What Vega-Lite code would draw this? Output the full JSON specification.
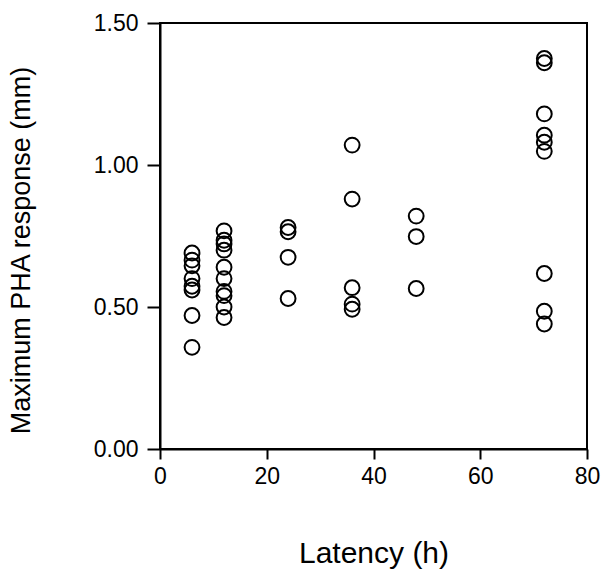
{
  "$schema": "https://vega.github.io/schema/vega-lite/v6.json",
  "autosize": "none",
  "padding": {"left": 160, "top": 23, "right": 14, "bottom": 124},
  "width": 427,
  "height": 426,
  "background": "white",
  "config": {
    "font": "Liberation Sans",
    "view": {"stroke": "black", "strokeWidth": 2}
  },
  "data": {
    "values": [
      {"latency": 6, "response": 0.69},
      {"latency": 6, "response": 0.665},
      {"latency": 6, "response": 0.645},
      {"latency": 6, "response": 0.60},
      {"latency": 6, "response": 0.573},
      {"latency": 6, "response": 0.56},
      {"latency": 6, "response": 0.47},
      {"latency": 6, "response": 0.358},
      {"latency": 12, "response": 0.768},
      {"latency": 12, "response": 0.735},
      {"latency": 12, "response": 0.722},
      {"latency": 12, "response": 0.70},
      {"latency": 12, "response": 0.64},
      {"latency": 12, "response": 0.60},
      {"latency": 12, "response": 0.555},
      {"latency": 12, "response": 0.54},
      {"latency": 12, "response": 0.50},
      {"latency": 12, "response": 0.463},
      {"latency": 24, "response": 0.78},
      {"latency": 24, "response": 0.765},
      {"latency": 24, "response": 0.675},
      {"latency": 24, "response": 0.53},
      {"latency": 36, "response": 1.07},
      {"latency": 36, "response": 0.88},
      {"latency": 36, "response": 0.568},
      {"latency": 36, "response": 0.51},
      {"latency": 36, "response": 0.492},
      {"latency": 48, "response": 0.82},
      {"latency": 48, "response": 0.748},
      {"latency": 48, "response": 0.565},
      {"latency": 72, "response": 1.375},
      {"latency": 72, "response": 1.36},
      {"latency": 72, "response": 1.18},
      {"latency": 72, "response": 1.105},
      {"latency": 72, "response": 1.08},
      {"latency": 72, "response": 1.048},
      {"latency": 72, "response": 0.618},
      {"latency": 72, "response": 0.485},
      {"latency": 72, "response": 0.44}
    ]
  },
  "mark": {"type": "point", "shape": "circle", "filled": false, "stroke": "black", "strokeWidth": 2, "size": 220, "opacity": 1},
  "encoding": {
    "x": {
      "field": "latency",
      "type": "quantitative",
      "scale": {"domain": [0, 80], "nice": false, "zero": false},
      "axis": {
        "title": "Latency (h)",
        "titleFontSize": 30,
        "titleFontWeight": "normal",
        "titleColor": "black",
        "titlePadding": 50,
        "values": [0, 20, 40, 60, 80],
        "labelFontSize": 23,
        "labelColor": "black",
        "labelPadding": 6,
        "tickSize": 10,
        "tickWidth": 2,
        "tickColor": "black",
        "domainColor": "black",
        "domainWidth": 2,
        "grid": false,
        "labelFlush": false
      }
    },
    "y": {
      "field": "response",
      "type": "quantitative",
      "scale": {"domain": [0, 1.5], "nice": false, "zero": false},
      "axis": {
        "title": "Maximum PHA response (mm)",
        "titleFontSize": 27,
        "titleFontWeight": "normal",
        "titleColor": "black",
        "titlePadding": 58,
        "titleY": 227,
        "values": [0, 0.5, 1.0, 1.5],
        "format": ".2f",
        "labelFontSize": 23,
        "labelColor": "black",
        "labelPadding": 9,
        "tickSize": 13,
        "tickWidth": 2,
        "tickColor": "black",
        "domainColor": "black",
        "domainWidth": 2,
        "grid": false,
        "labelFlush": false
      }
    }
  }
}
